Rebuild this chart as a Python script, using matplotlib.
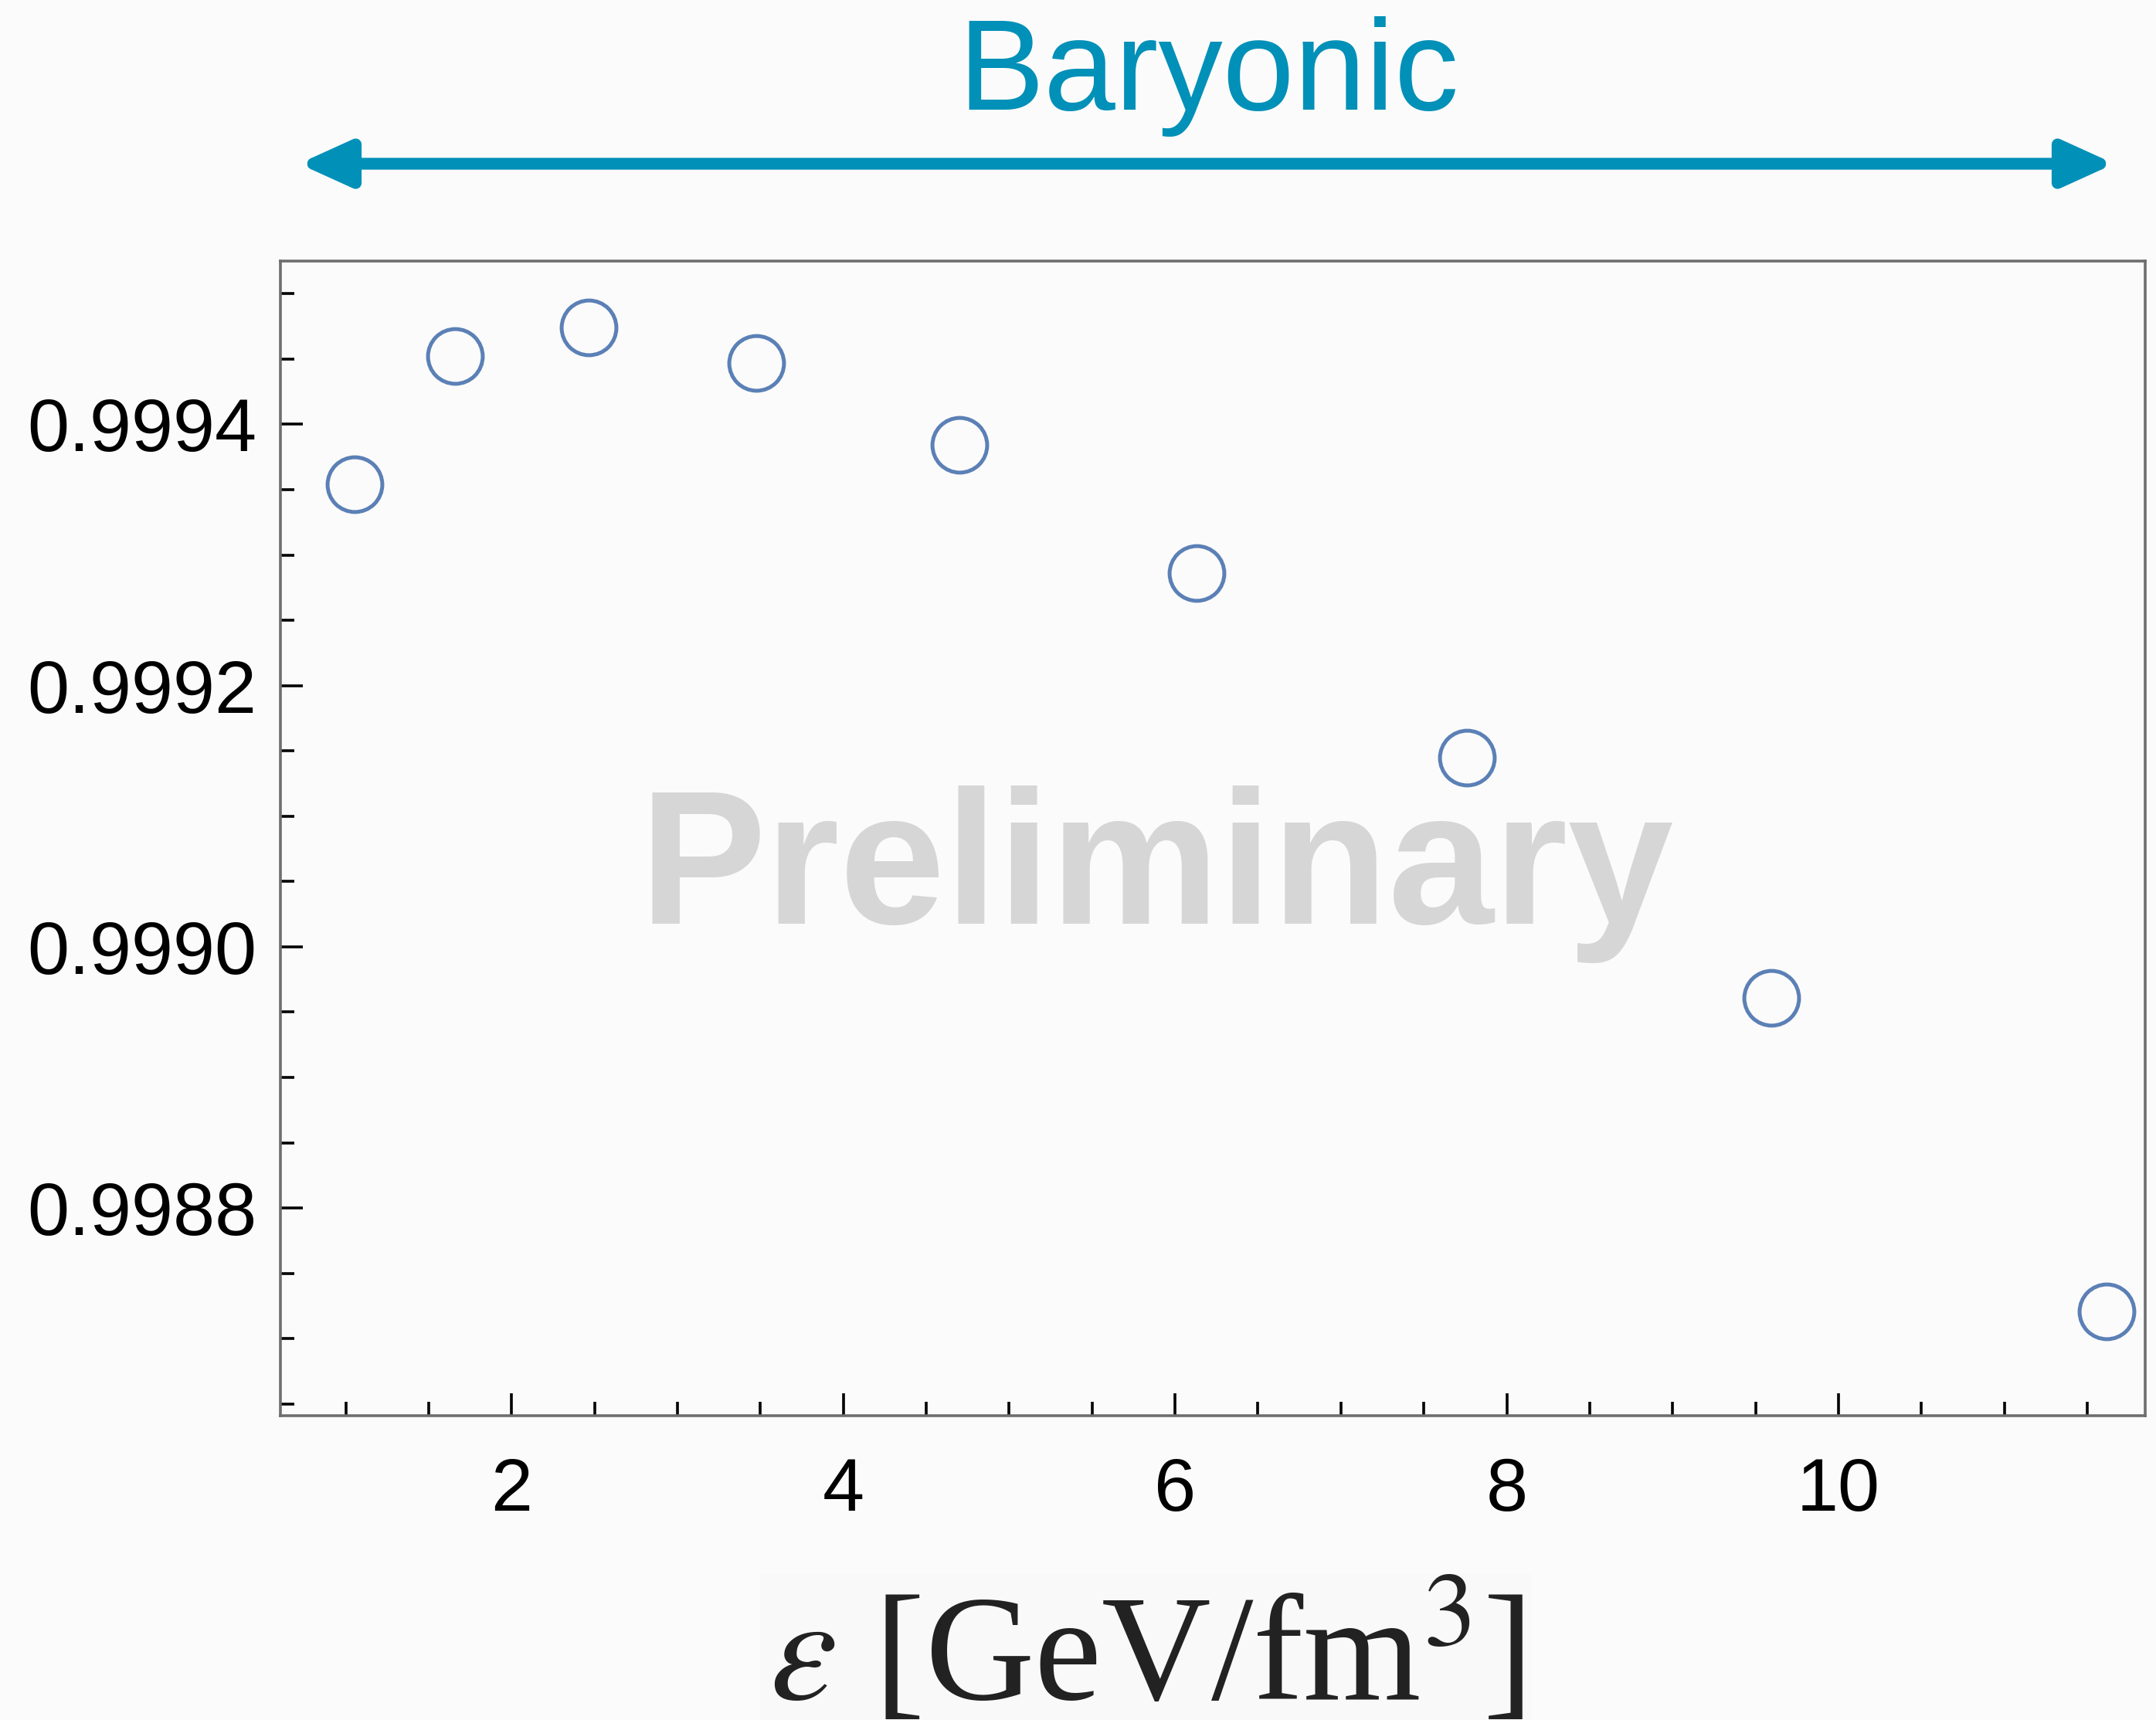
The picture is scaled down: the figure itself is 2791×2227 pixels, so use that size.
import matplotlib
matplotlib.use("Agg")
import matplotlib.pyplot as plt
from matplotlib.ticker import MultipleLocator, FormatStrFormatter

# data
energy_density = [1.053, 1.658, 2.463, 3.474, 4.701, 6.128, 7.761, 9.594, 11.617]
ratio = [0.999354, 0.999452, 0.999474, 0.999447, 0.999384, 0.999286, 0.999145, 0.998961, 0.998721]
x_ticks = [2, 4, 6, 8, 10]
y_ticks = [0.9988, 0.9990, 0.9992, 0.9994]

W, H, DPI = 2791, 2227, 100
bg = "#fbfbfb"
blue = "#5b80b6"
teal = "#0090b8"

plt.rcParams["mathtext.fontset"] = "stix"
fig = plt.figure(figsize=(W / DPI, H / DPI), dpi=DPI, facecolor=bg)
ax = fig.add_axes([363 / W, 1 - 1833 / H, (2777 - 363) / W, (1833 - 338) / H])
ax.set_facecolor(bg)

ax.plot(energy_density, ratio, linestyle="none", marker="o", markersize=51,
        markerfacecolor="none", markeredgecolor=blue, markeredgewidth=3.6, zorder=3)

ax.set_xlim(0.605, 11.85)
ax.set_ylim(0.998641, 0.999525)

ax.set_xticks(x_ticks)
ax.set_yticks(y_ticks)
ax.xaxis.set_minor_locator(MultipleLocator(0.5))
ax.yaxis.set_minor_locator(MultipleLocator(0.00005))
ax.xaxis.set_major_formatter(FormatStrFormatter("%d"))
ax.yaxis.set_major_formatter(FormatStrFormatter("%.4f"))

for s in ax.spines.values():
    s.set_color("#6e6e6e")
    s.set_linewidth(2.6)

ax.tick_params(which="both", direction="in", color="black", top=False, right=False)
ax.tick_params(which="major", length=21, width=2.6)
ax.tick_params(which="minor", length=13, width=2.6)
ax.tick_params(axis="y", which="major", pad=22)
ax.tick_params(axis="x", which="major", pad=38)
for lab in ax.get_xticklabels() + ax.get_yticklabels():
    lab.set_fontfamily("Liberation Sans")
    lab.set_fontsize(70)
    lab.set_color("black")

# watermark
fig.text(1497 / W, 1 - 1196 / H, "Preliminary", ha="center", va="baseline",
         fontfamily="Liberation Sans", fontweight="bold", fontsize=177,
         color="#d6d6d6", zorder=1)

# baryonic range arrow and label
fig.patches.append(matplotlib.patches.FancyArrowPatch(
    (387 / W, 1 - 212 / H), (2737 / W, 1 - 212 / H), transform=fig.transFigure,
    arrowstyle="<|-|>,head_length=2.2,head_width=1.0", mutation_scale=18,
    color=teal, linewidth=11, shrinkA=0, shrinkB=0))
fig.text(1565 / W, 1 - 142 / H, "Baryonic", ha="center", va="baseline",
         fontfamily="Liberation Sans", fontsize=120, color=teal)

# x label
fig.text(1484 / W, 1 - 2200 / H, r"$\varepsilon$ [GeV/fm$^3$]", ha="center", va="baseline",
         fontfamily="Liberation Serif", fontsize=141, color="#222222",
         bbox=dict(facecolor="#f9f9f9", edgecolor="none", pad=8))

fig.savefig("out.png", dpi=DPI, facecolor=bg)
